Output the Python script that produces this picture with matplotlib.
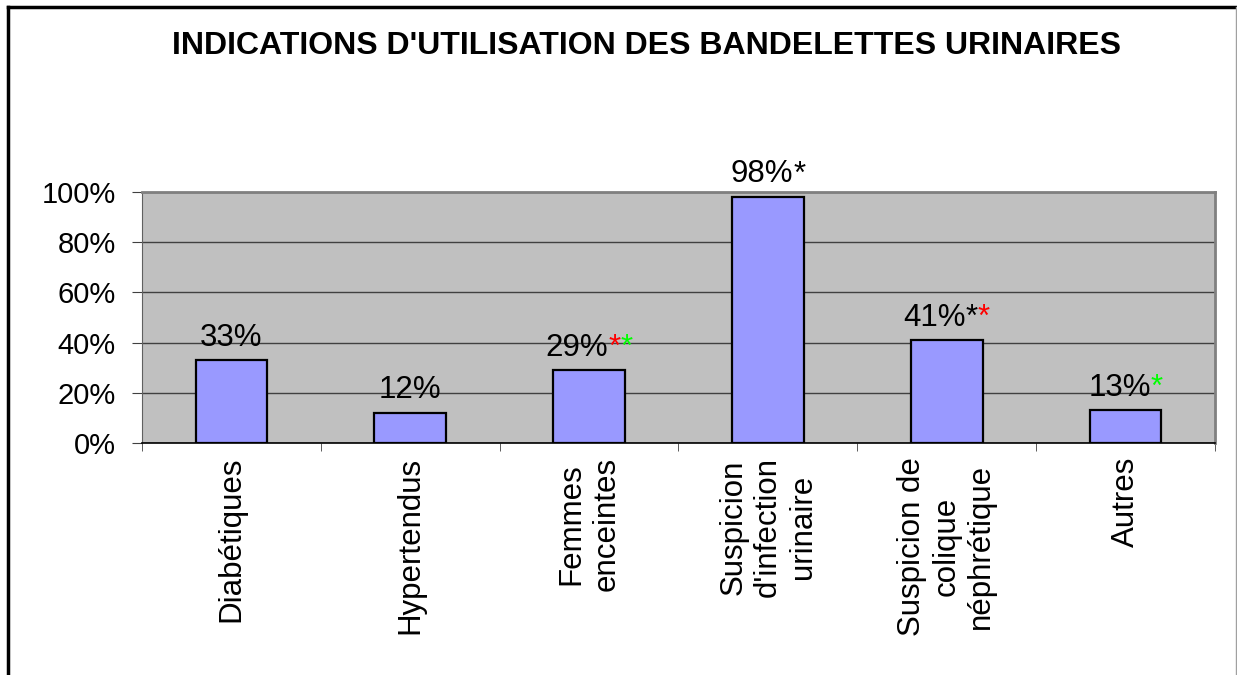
import matplotlib
matplotlib.use("Agg")
import matplotlib.pyplot as plt
from matplotlib.lines import Line2D
from matplotlib.ticker import PercentFormatter

plt.rcParams['font.family'] = ['Liberation Sans', 'DejaVu Sans']

#   chart data
categories = ["Diabétiques", "Hypertendus", "Femmes\nenceintes",
              "Suspicion\nd'infection\nurinaire", "Suspicion de\ncolique\nnéphrétique", "Autres"]
values = [33, 12, 29, 98, 41, 13]
value_labels = ["33%", "12%", "29%", "98%", "41%", "13%"]
stars = [[], [], [("*", "#FF0000"), ("*", "#00FF00")], [("*", "black")],
         [("*", "black"), ("*", "#FF0000")], [("*", "#00FF00")]]
y_ticks = [0, 20, 40, 60, 80, 100]
title = "INDICATIONS D'UTILISATION DES BANDELETTES URINAIRES"

DPI = 100
LABEL_FS = 22.5
fig = plt.figure(figsize=(12.37, 6.75), dpi=DPI)
ax = fig.add_axes([142 / 1237, 1 - 443 / 675, (1215 - 142) / 1237, (443 - 192) / 675])

#   outer frame of the chart object
fig.add_artist(Line2D([8 / 1237, 8 / 1237], [0, 1 - 7 / 675], transform=fig.transFigure, color="black", lw=2.5))
fig.add_artist(Line2D([8 / 1237, 1], [1 - 7 / 675, 1 - 7 / 675], transform=fig.transFigure, color="black", lw=2.5))
fig.add_artist(Line2D([1235.5 / 1237, 1235.5 / 1237], [0, 1 - 7 / 675], transform=fig.transFigure, color="#A0A0A0", lw=1))

ax.set_facecolor("#C0C0C0")
x = list(range(len(categories)))
ax.bar(x, values, width=0.4, color="#9999FF", edgecolor="black", linewidth=1.6, zorder=3)

ax.set_xlim(-0.5, len(categories) - 0.5)
ax.set_ylim(0, 100)
ax.set_yticks(y_ticks)
ax.yaxis.set_major_formatter(PercentFormatter(decimals=0))
ax.grid(axis="y", color="#404040", lw=1, zorder=1)

ax.set_xticks(x)
ax.set_xticklabels(categories, rotation=90, ha="center", va="top", multialignment="center")
ax.set_xticks([i - 0.5 for i in range(len(categories) + 1)], minor=True)
ax.tick_params(axis="x", which="major", length=0, pad=10, labelsize=LABEL_FS)
ax.tick_params(axis="x", which="minor", length=6, direction="out", color="#404040")
ax.tick_params(axis="y", length=7, direction="out", pad=12, labelsize=21, color="#404040")

for side in ["top", "right"]:
    ax.spines[side].set_color("#808080")
    ax.spines[side].set_linewidth(2)
ax.spines["left"].set_color("#606060")
ax.spines["bottom"].set_color("black")
ax.spines["bottom"].set_linewidth(1.2)

fig.text(646 / 1237, 1 - 46 / 675, title, ha="center", va="center", fontsize=23, fontweight="bold")

#   value labels with coloured stars, whole string centred on the bar
renderer = fig.canvas.get_renderer()
for i, v in enumerate(values):
    full = value_labels[i] + "".join(s for s, c in stars[i])
    tmp = ax.text(0, 0, full, fontsize=LABEL_FS)
    w = tmp.get_window_extent(renderer).width
    tmp.remove()
    prev = ax.annotate(value_labels[i], xy=(i, v), xytext=(-w / 2 * 72 / DPI, 10.5),
                       textcoords="offset points", ha="left", va="baseline", fontsize=LABEL_FS)
    for s, c in stars[i]:
        prev = ax.annotate(s, xy=(1, 0), xycoords=prev, ha="left", va="bottom",
                           fontsize=LABEL_FS, color=c)

fig.savefig("out.png", dpi=DPI)
